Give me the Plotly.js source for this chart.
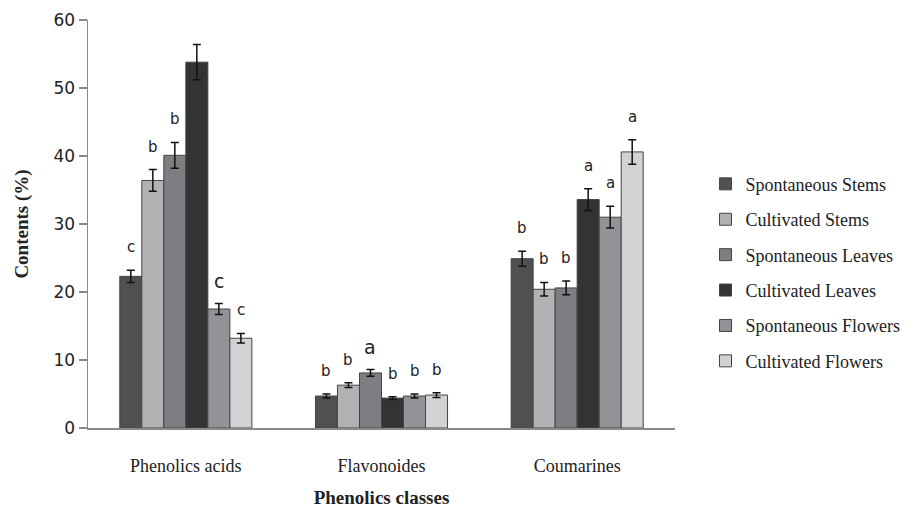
<!DOCTYPE html>
<html>
<head>
<meta charset="utf-8">
<script src="https://cdn.plot.ly/plotly-3.0.1.min.js"></script>
<style>html,body{margin:0;padding:0;background:#fff;}#chart{width:917px;height:508px;}</style>
</head>
<body>
<div id="chart"></div>
<script>
var categories = ["Phenolics acids", "Flavonoides", "Coumarines"];
var seriesNames = ["Spontaneous Stems", "Cultivated Stems", "Spontaneous Leaves", "Cultivated Leaves", "Spontaneous Flowers", "Cultivated Flowers"];
var spontaneousStems = [22.3, 4.7, 24.9];
var cultivatedStems = [36.4, 6.3, 20.4];
var spontaneousLeaves = [40.1, 8.1, 20.6];
var cultivatedLeaves = [53.8, 4.4, 33.6];
var spontaneousFlowers = [17.5, 4.7, 31.0];
var cultivatedFlowers = [13.2, 4.85, 40.6];
var errSpontaneousStems = [0.9, 0.3, 1.1];
var errCultivatedStems = [1.6, 0.35, 1.0];
var errSpontaneousLeaves = [1.9, 0.5, 1.0];
var errCultivatedLeaves = [2.6, 0.2, 1.6];
var errSpontaneousFlowers = [0.8, 0.3, 1.6];
var errCultivatedFlowers = [0.7, 0.35, 1.8];
var lettersSpontaneousStems = ["c", "b", "b"];
var lettersCultivatedStems = ["b", "b", "b"];
var lettersSpontaneousLeaves = ["b", "a", "b"];
var lettersCultivatedLeaves = ["", "b", "a"];
var lettersSpontaneousFlowers = ["c", "b", "a"];
var lettersCultivatedFlowers = ["c", "b", "a"];

var values = [spontaneousStems, cultivatedStems, spontaneousLeaves, cultivatedLeaves, spontaneousFlowers, cultivatedFlowers];
var errors = [errSpontaneousStems, errCultivatedStems, errSpontaneousLeaves, errCultivatedLeaves, errSpontaneousFlowers, errCultivatedFlowers];
var letters = [lettersSpontaneousStems, lettersCultivatedStems, lettersSpontaneousLeaves, lettersCultivatedLeaves, lettersSpontaneousFlowers, lettersCultivatedFlowers];
var colors = ["#505053", "#b2b2b5", "#7e7e82", "#333334", "#939397", "#d2d2d4"];

var serif = "'Liberation Serif', 'Times New Roman', serif";
var sans = "'DejaVu Sans', sans-serif";

var traces = seriesNames.map(function(name, i) {
  return {
    type: "bar",
    name: name,
    x: categories,
    y: values[i],
    legendgroup: "g" + i,
    marker: {color: colors[i], line: {color: "#444", width: 1}},
    error_y: {type: "data", array: errors[i], visible: true, color: "#111", thickness: 1.5, width: 4}
  };
});

var nSeries = seriesNames.length;
var bargap = 0.325;
var annotations = [];
letters.forEach(function(arr, i) {
  arr.forEach(function(t, j) {
    if (!t) return;
    var slot = (1 - bargap) / nSeries;
    var xpos = j - (1 - bargap) / 2 + slot * (i + 0.5);
    var big = (i === 4 && j === 0) || (i === 2 && j === 1);
    annotations.push({
      x: xpos, y: values[i][j] + errors[i][j], xref: "x", yref: "y",
      text: t, showarrow: false, yanchor: "middle", yshift: 23,
      font: {family: sans, size: big ? 19 : 15, color: "#222"}
    });
  });
});

var layout = {
  width: 917, height: 508,
  margin: {l: 88, r: 242, t: 20, b: 80},
  paper_bgcolor: "#fff", plot_bgcolor: "#fff",
  barmode: "group", bargap: bargap, bargroupgap: 0,
  showlegend: true,
  legend: {
    x: 1.052, xanchor: "left", y: 0.643, yanchor: "top",
    font: {family: serif, size: 18, color: "#222"},
    tracegroupgap: 9, traceorder: "grouped", itemwidth: 30
  },
  xaxis: {
    type: "category", range: [-0.5, 2.5],
    showline: true, linecolor: "#8a8a8a", linewidth: 2,
    ticks: "", ticklabelstandoff: 20,
    tickfont: {family: serif, size: 18, color: "#222"},
    title: {text: "<b>Phenolics classes</b>", standoff: 16,
      font: {family: serif, size: 19, color: "#222"}},
    showgrid: false, zeroline: false, fixedrange: true
  },
  yaxis: {
    range: [0, 60], dtick: 10, tick0: 0,
    showline: true, linecolor: "#8a8a8a", linewidth: 1.5,
    ticks: "outside", ticklen: 8, tickcolor: "#8a8a8a", tickwidth: 1.5,
    tickfont: {family: sans, size: 17, color: "#222"},
    title: {text: "<b>Contents (%)</b>", standoff: 20,
      font: {family: serif, size: 19, color: "#222"}},
    showgrid: false, zeroline: false, fixedrange: true
  },
  shapes: [{type: "line", xref: "paper", yref: "y", x0: -8 / 587, x1: 0, y0: 0, y1: 0,
    line: {color: "#8a8a8a", width: 2}}],
  annotations: annotations
};

Plotly.newPlot("chart", traces, layout, {displayModeBar: false, staticPlot: true});
</script>
</body>
</html>
